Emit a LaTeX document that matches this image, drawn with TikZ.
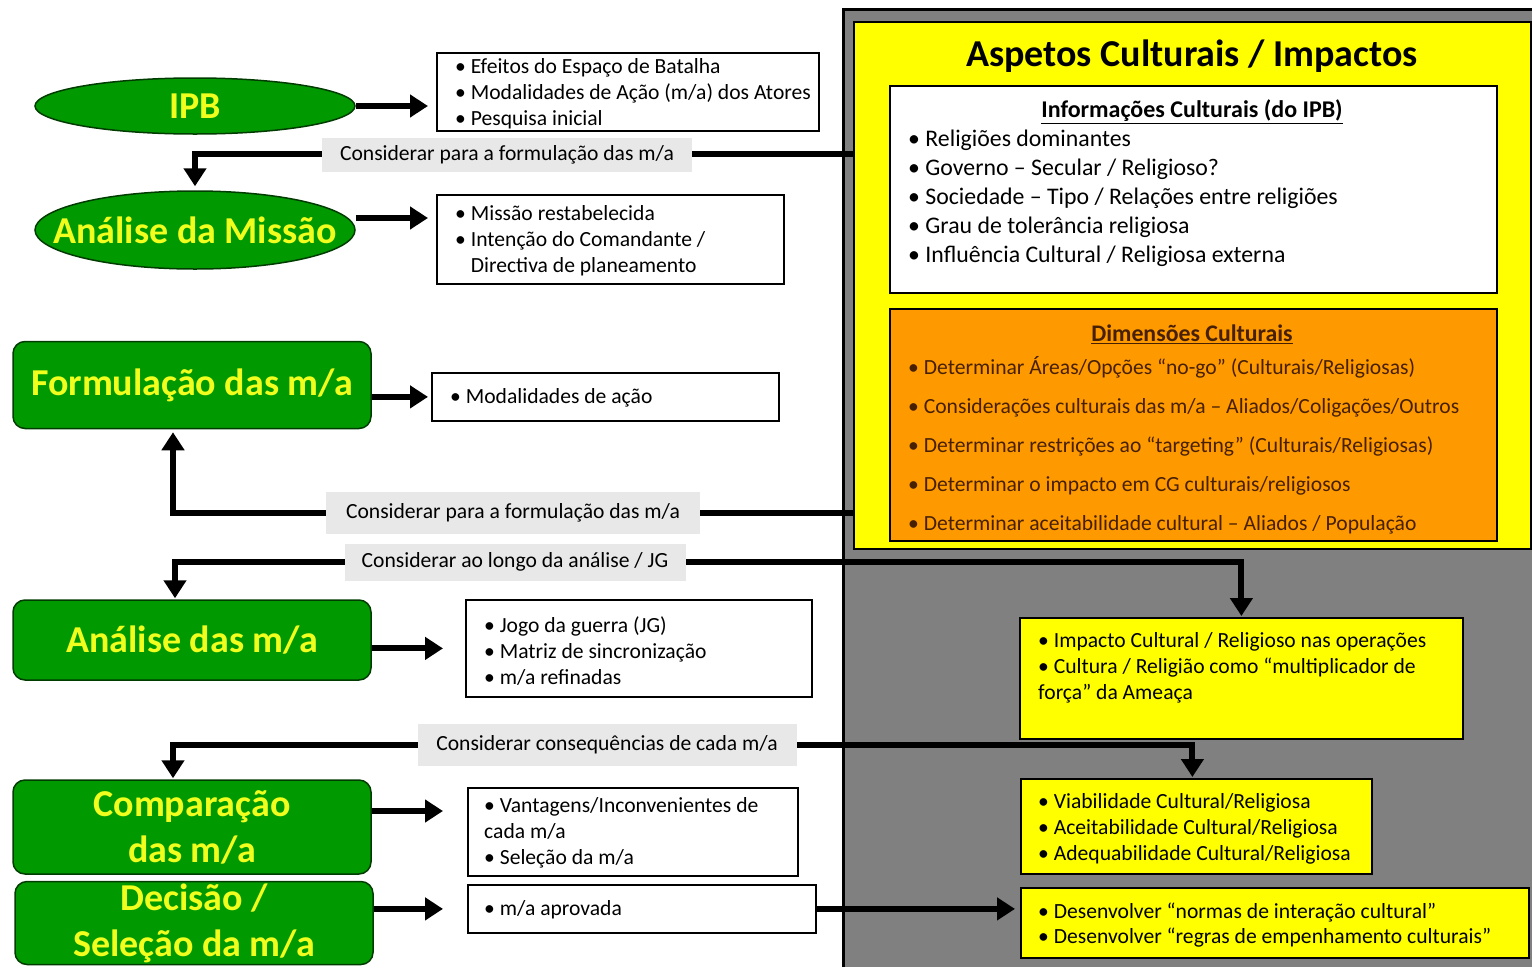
\documentclass[tikz,border=0pt]{standalone}
\usepackage{fontspec}
\setmainfont{Carlito}
\usetikzlibrary{arrows.meta,shapes.geometric}
\definecolor{pgreen}{RGB}{0,153,0}
\definecolor{pgreenD}{RGB}{0,60,0}
\definecolor{ptxt}{RGB}{240,255,30}
\definecolor{pyel}{RGB}{255,255,0}
\definecolor{porange}{RGB}{255,153,0}
\definecolor{pbrown}{RGB}{70,32,0}
\definecolor{plabel}{RGB}{232,232,232}
\definecolor{ppanel}{RGB}{128,128,128}
\tikzset{
  greenell/.style={ellipse, fill=pgreen, draw=pgreenD, line width=1.5pt, inner sep=0pt},
  greentxt/.style={inner sep=0pt, text=ptxt, font=\fontsize{38}{46}\selectfont\bfseries},
  greenrect/.style={rectangle, rounded corners=12pt, fill=pgreen, draw=pgreenD, line width=1.5pt,
     inner sep=0pt, text=ptxt, align=center, font=\fontsize{38}{46}\selectfont\bfseries},
  wbox/.style={rectangle, draw=black, fill=white, line width=1.8pt, inner sep=0pt, anchor=north west},
  ybox/.style={rectangle, draw=black, fill=pyel, line width=1.8pt, inner sep=0pt, anchor=north west},
  btxt/.style={anchor=west, align=left, inner sep=0pt, font=\fontsize{21.6}{25.8}\selectfont},
  lbl/.style={rectangle, fill=plabel, inner sep=0pt, font=\fontsize{21.6}{24}\selectfont},
  arr/.style={line width=6pt, -{Triangle[length=18pt,width=22pt]}},
  darr/.style={line width=6pt, {Triangle[length=18pt,width=22pt]}-{Triangle[length=18pt,width=22pt]}},
}
\begin{document}
\begin{tikzpicture}[x=1pt,y=-1pt]
\useasboundingbox (0,0) rectangle (1532,967);
% right panel
\fill[ppanel] (843,9) rectangle (1532,967);
\draw[line width=3pt] (843,967) -- (843,9) -- (1532,9);
\node[ybox, minimum width=677pt, minimum height=527pt] (yel) at (853,21) {};
\node[font=\fontsize{38}{44}\selectfont\bfseries] (title) at (1192,56) {Aspetos Culturais / Impactos};
\node[wbox, minimum width=607pt, minimum height=207pt] (wb) at (889,85) {};
\node[font=\fontsize{24}{28}\selectfont\bfseries] (wbh) at (1192,112) {\underline{Informações Culturais (do IPB)}};
\node[btxt, font=\fontsize{23.8}{29}\selectfont] (wbt) at (908,198) {• Religiões dominantes\\• Governo – Secular / Religioso?\\• Sociedade – Tipo / Relações entre religiões\\• Grau de tolerância religiosa\\• Influência Cultural / Religiosa externa};
\node[wbox, fill=porange, minimum width=607pt, minimum height=232pt] (ob) at (889,308) {};
\node[font=\fontsize{23.8}{28}\selectfont\bfseries, text=pbrown] (obh) at (1192,334) {\underline{Dimensões Culturais}};
\node[btxt, text=pbrown, font=\fontsize{21.6}{39}\selectfont] (obt) at (908,445) {• Determinar Áreas/Opções “no-go” (Culturais/Religiosas)\\• Considerações culturais das m/a – Aliados/Coligações/Outros\\• Determinar restrições ao “targeting” (Culturais/Religiosas)\\• Determinar o impacto em CG culturais/religiosos\\• Determinar aceitabilidade  cultural – Aliados / População};
% left stages
\node[greenell, minimum width=320pt, minimum height=56pt] (ipb) at (195,106) {};
\node[greentxt] (ipbt) at (ipb.center) {IPB};
\node[greenell, minimum width=320pt, minimum height=78pt] (am) at (195,230) {};
\node[greentxt] (amt) at (am.center) {Análise da Missão};
\node[greenrect, minimum width=358pt, minimum height=87pt] (fm) at (192,385) {Formulação das m/a};
\node[greenrect, minimum width=358pt, minimum height=80pt] (an) at (192,640) {Análise das m/a};
\node[greenrect, minimum width=358pt, minimum height=94pt] (cm) at (192,827) {Comparação\\das m/a};
\node[greenrect, minimum width=358pt, minimum height=83pt] (ds) at (194,923) {Decisão /\\Seleção da m/a};
% output boxes
\node[wbox, minimum width=382pt, minimum height=78pt] (b1) at (436,52) {};
\node[btxt] (b1t) at (455,94) {• Efeitos do Espaço de Batalha\\• Modalidades de Ação (m/a) dos Atores\\• Pesquisa inicial};
\node[wbox, minimum width=347pt, minimum height=89pt] (b2) at (436,194) {};
\node[btxt] (b2t) at (455,241) {• Missão restabelecida\\• Intenção do Comandante /\\\phantom{• }Directiva de planeamento};
\node[wbox, minimum width=347pt, minimum height=48pt] (b3) at (431,372) {};
\node[btxt] (b3t) at (450,398) {• Modalidades de ação};
\node[wbox, minimum width=346pt, minimum height=97pt] (b4) at (465,599) {};
\node[btxt] (b4t) at (484,651) {• Jogo da guerra (JG)\\• Matriz de sincronização\\• m/a refinadas};
\node[wbox, minimum width=330pt, minimum height=88pt] (b5) at (467,787) {};
\node[btxt] (b5t) at (484,833) {• Vantagens/Inconvenientes de\\cada m/a\\• Seleção da m/a};
\node[wbox, minimum width=348pt, minimum height=48pt] (b6) at (467,884) {};
\node[btxt] (b6t) at (484,910) {• m/a aprovada};
% right yellow boxes
\node[ybox, minimum width=443pt, minimum height=121pt] (y4) at (1019,617) {};
\node[btxt] (y4t) at (1038,668) {• Impacto Cultural / Religioso nas operações\\• Cultura / Religião como “multiplicador de\\força” da Ameaça};
\node[ybox, minimum width=351pt, minimum height=95pt] (y5) at (1020,778) {};
\node[btxt] (y5t) at (1038,829) {• Viabilidade Cultural/Religiosa\\• Aceitabilidade  Cultural/Religiosa\\• Adequabilidade Cultural/Religiosa};
\node[ybox, minimum width=508pt, minimum height=70pt] (y6) at (1020,887) {};
\node[btxt] (y6t) at (1038,925) {• Desenvolver “normas de interação cultural”\\• Desenvolver “regras de empenhamento culturais”};
% helper coordinates
\coordinate (h154) at (0,154);
\coordinate (h513) at (0,513);
\coordinate (h562) at (0,562);
\coordinate (h745) at (0,745);
\coordinate (c1) at (yel.west |- h154);
\coordinate (c2) at (yel.west |- h513);
\coordinate (amA) at ([yshift=12pt]am.east);
\coordinate (cmA) at ([yshift=16pt]cm.east);
\coordinate (fmB) at ([xshift=-19pt]fm.south);
\coordinate (anT) at ([xshift=-17pt]an.north);
\coordinate (cmT) at ([xshift=-19pt]cm.north);
\coordinate (y5T) at ([xshift=-4pt]y5.north);
% connectors
\draw[arr, shorten >=8pt] (ipb.east) -- (ipb.east -| b1.west);
\draw[arr, shorten >=8pt] (amA) -- (amA -| b2.west);
\draw[arr, shorten >=3pt] (fm.east |- b3.west) -- (b3.west);
\draw[arr, shorten >=22pt] (an.east |- b4.west) -- (b4.west);
\draw[arr, shorten >=24pt] (cmA) -- (cmA -| b5.west);
\draw[arr, shorten >=24pt] (ds.east |- b6.west) -- (b6.west);
\draw[arr, shorten >=5pt] (b6.east) -- (b6.east -| y6.west);
\draw[arr, shorten >=4pt] (c1) -| (am.north);
\draw[arr, shorten >=3pt] (c2) -| (fmB);
\draw[darr, shorten <=1pt, shorten >=1pt] (anT) |- (h562 -| y4.north) -- (y4.north);
\draw[darr, shorten <=1pt, shorten >=1pt] (cmT) |- (h745 -| y5T) -- (y5T);
% labels
\node[lbl, minimum width=370pt, minimum height=34pt] (l1) at (507,155) {Considerar para a formulação das m/a};
\node[lbl, minimum width=374pt, minimum height=42pt] (l2) at (513,513) {Considerar para a formulação das m/a};
\node[lbl, minimum width=341pt, minimum height=37pt] (l3) at (515,562) {Considerar ao longo da análise / JG};
\node[lbl, minimum width=379pt, minimum height=42pt] (l4) at (607,745) {Considerar consequências de cada m/a};
\end{tikzpicture}
\end{document}
